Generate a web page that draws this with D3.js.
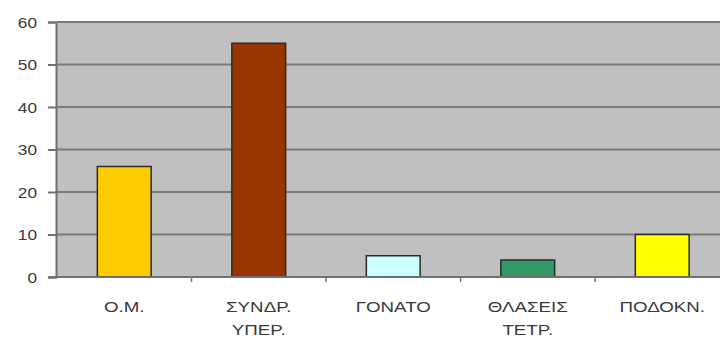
<!DOCTYPE html>
<html>
<head>
<meta charset="utf-8">
<script src="https://cdn.jsdelivr.net/npm/d3@7"></script>
<style>
  html, body { margin: 0; padding: 0; background: #fff; }
  svg { display: block; }
  text { font-family: "Liberation Sans", Arial, sans-serif; }
</style>
</head>
<body>
<svg id="chart" width="720" height="341"></svg>
<script>
// Categories (two-line labels split on "|") and their counts
const categories = ["Ο.Μ.", "ΣΥΝΔΡ.|ΥΠΕΡ.", "ΓΟΝΑΤΟ", "ΘΛΑΣΕΙΣ|ΤΕΤΡ.", "ΠΟΔΟΚΝ."];
const values = [26, 55, 5, 4, 10];
const barColors = ["#FFCC00", "#993300", "#CCFFFF", "#339966", "#FFFF00"];
const yTicks = [0, 10, 20, 30, 40, 50, 60];

const svg = d3.select("#chart");
const plot = { left: 57, right: 729.5, top: 22, bottom: 277 };

const x = d3.scaleBand()
  .domain(categories)
  .range([plot.left, plot.right])
  .paddingInner(0.6)
  .paddingOuter(0.3);

const y = d3.scaleLinear()
  .domain([0, 60])
  .range([plot.bottom, plot.top]);

const textColor = "#3a3a3a";

// Plot background
svg.append("rect")
  .attr("x", plot.left)
  .attr("y", plot.top)
  .attr("width", plot.right - plot.left)
  .attr("height", plot.bottom - plot.top)
  .attr("fill", "#C0C0C0");

// Horizontal gridlines
svg.append("g")
  .selectAll("line")
  .data(yTicks.filter(d => d > 0))
  .join("line")
  .attr("x1", plot.left)
  .attr("x2", plot.right)
  .attr("y1", d => y(d))
  .attr("y2", d => y(d))
  .attr("stroke", "#7a7a7a")
  .attr("stroke-width", 2);

// Bars
svg.append("g")
  .selectAll("rect")
  .data(categories)
  .join("rect")
  .attr("x", d => x(d))
  .attr("y", (d, i) => y(values[i]))
  .attr("width", x.bandwidth())
  .attr("height", (d, i) => y(0) - y(values[i]))
  .attr("fill", (d, i) => barColors[i])
  .attr("stroke", "#2a2a2a")
  .attr("stroke-width", 1.5);

// Y axis
const yAxis = svg.append("g")
  .attr("transform", `translate(${plot.left - 1},0)`)
  .call(d3.axisLeft(y).tickValues(yTicks).tickSize(8).tickPadding(0).tickFormat(d3.format("d")));
yAxis.select(".domain").attr("stroke", "#707070").attr("stroke-width", 2);
yAxis.selectAll(".tick line").attr("stroke", "#707070").attr("stroke-width", 2);
yAxis.selectAll(".tick text")
  .attr("x", 0)
  .attr("dy", "0.36em")
  .attr("fill", textColor)
  .attr("font-size", 15)
  .attr("text-anchor", "end")
  .attr("transform", "translate(-19,0) scale(1.15,1)");

// X axis line and tick marks on the category boundaries
svg.append("line")
  .attr("x1", plot.left - 8)
  .attr("x2", plot.right)
  .attr("y1", plot.bottom)
  .attr("y2", plot.bottom)
  .attr("stroke", "#707070")
  .attr("stroke-width", 2);

const boundaries = categories.slice(1).map((c, i) => plot.left + (i + 1) * x.step());
svg.append("g")
  .selectAll("line")
  .data(boundaries)
  .join("line")
  .attr("x1", d => d)
  .attr("x2", d => d)
  .attr("y1", plot.bottom)
  .attr("y2", plot.bottom + 5)
  .attr("stroke", "#707070")
  .attr("stroke-width", 1.5);

// Category labels, slightly widened
const labels = svg.append("g")
  .selectAll("g")
  .data(categories)
  .join("g")
  .attr("transform", d => `translate(${x(d) + x.bandwidth() / 2},312) scale(1.25,1)`);

labels.selectAll("text")
  .data(d => d.split("|"))
  .join("text")
  .attr("y", (d, i) => i * 23)
  .attr("text-anchor", "middle")
  .attr("font-size", 15)
  .attr("fill", textColor)
  .text(d => d);
</script>
</body>
</html>
